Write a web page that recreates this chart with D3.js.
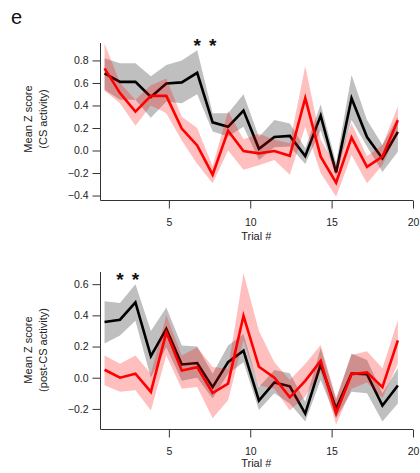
<!DOCTYPE html>
<html>
<head>
<meta charset="utf-8">
<script src="https://cdnjs.cloudflare.com/ajax/libs/d3/7.8.5/d3.min.js"></script>
<style>
  body { margin: 0; background: #fff; }
  svg { display: block; font-family: "Liberation Sans", Arial, sans-serif; }
  .axis path, .axis line { stroke: #333; }
  .axis text { fill: #222; font-size: 10.5px; }
</style>
</head>
<body>
<div id="chart"></div>
<script>

var trials = [1, 2, 3, 4, 5, 6, 7, 8, 9, 10, 11, 12, 13, 14, 15, 16, 17, 18, 19, 20];
var xTicks = [5, 10, 15, 20];

// panel 1 : CS activity
var csBlack   = [0.685, 0.61, 0.61, 0.475, 0.595, 0.605, 0.69, 0.25, 0.21, 0.355, 0.015, 0.12, 0.13, -0.05, 0.31, -0.195, 0.465, 0.12, -0.07, 0.165];
var csBlackHi = [0.82, 0.775, 0.775, 0.66, 0.76, 0.80, 0.89, 0.33, 0.33, 0.50, 0.12, 0.27, 0.24, 0.02, 0.41, -0.11, 0.67, 0.27, 0.05, 0.30];
var csBlackLo = [0.54, 0.45, 0.45, 0.29, 0.435, 0.42, 0.50, 0.17, 0.125, 0.21, -0.085, 0.03, 0.035, -0.12, 0.18, -0.23, 0.27, 0.035, -0.19, -0.01];
var csRed     = [0.73, 0.51, 0.345, 0.485, 0.485, 0.195, 0.045, -0.215, 0.175, -0.005, -0.025, -0.005, -0.047, 0.465, -0.055, -0.285, 0.115, -0.145, -0.055, 0.268];
var csRedHi   = [0.95, 0.60, 0.45, 0.58, 0.64, 0.30, 0.20, -0.14, 0.35, 0.10, 0.15, 0.095, 0.065, 0.75, 0.095, -0.14, 0.24, -0.05, 0.05, 0.39];
var csRedLo   = [0.53, 0.42, 0.22, 0.40, 0.33, 0.09, -0.12, -0.29, 0.0, -0.17, -0.13, -0.085, -0.215, 0.21, -0.20, -0.41, -0.04, -0.29, -0.13, 0.155];
var csTicks   = [-0.4, -0.2, 0.0, 0.2, 0.4, 0.6, 0.8];
var csStars   = [7, 8];

// panel 2 : post-CS activity
var postBlack   = [0.357, 0.372, 0.483, 0.138, 0.313, 0.085, 0.094, -0.06, 0.10, 0.174, -0.147, -0.03, -0.055, -0.23, 0.085, -0.198, 0.027, 0.022, -0.178, -0.05];
var postBlackHi = [0.49, 0.48, 0.60, 0.30, 0.45, 0.206, 0.20, 0.026, 0.206, 0.28, -0.06, 0.05, 0.028, -0.154, 0.19, -0.14, 0.156, 0.113, -0.10, 0.06];
var postBlackLo = [0.22, 0.27, 0.366, 0.0, 0.196, -0.02, 0.0, -0.134, 0.026, 0.10, -0.207, -0.10, -0.165, -0.28, -0.015, -0.26, -0.09, -0.10, -0.28, -0.165];
var postRed     = [0.051, 0.0, 0.026, -0.091, 0.291, 0.047, 0.068, -0.098, -0.038, 0.397, 0.07, 0.0, -0.126, -0.02, 0.108, -0.228, 0.022, 0.034, -0.061, 0.24];
var postRedHi   = [0.143, 0.09, 0.143, 0.026, 0.40, 0.143, 0.196, 0.068, 0.057, 0.67, 0.30, 0.10, -0.015, 0.09, 0.21, -0.13, 0.145, 0.17, 0.06, 0.37];
var postRedLo   = [-0.049, -0.09, -0.08, -0.21, 0.143, -0.07, -0.06, -0.26, -0.145, 0.24, -0.05, -0.07, -0.21, -0.12, 0.04, -0.30, -0.07, -0.03, -0.13, 0.09];
var postTicks   = [-0.2, 0.0, 0.2, 0.4, 0.6];
var postStars   = [2, 3];

var W = 420, H = 473;

var svg = d3.select("#chart").append("svg")
    .attr("width", W)
    .attr("height", H);

svg.append("rect").attr("width", W).attr("height", H).attr("fill", "#fff");

svg.append("text")
    .attr("x", 11)
    .attr("y", 24)
    .attr("font-size", 20)
    .attr("fill", "#111")
    .text("e");

drawPanel({
  top: 43, bottom: 200.5, yDomain: [-0.444, 0.955], yTicks: csTicks, yFormat: ".1f",
  black: csBlack, blackHi: csBlackHi, blackLo: csBlackLo,
  red: csRed, redHi: csRedHi, redLo: csRedLo,
  stars: csStars, starY: 52, labelY: 119, label2: "(CS activity)", xLabelY: 240
});

drawPanel({
  top: 272, bottom: 429.5, yDomain: [-0.332, 0.678], yTicks: postTicks, yFormat: ".1f",
  black: postBlack, blackHi: postBlackHi, blackLo: postBlackLo,
  red: postRed, redHi: postRedHi, redLo: postRedLo,
  stars: postStars, starY: 286, labelY: 350, label2: "(post-CS activity)", xLabelY: 467
});

function drawPanel(p) {
  var left = 100.5, right = 413;

  // axis scale and the scale the trial points sit on (igor-ish offset)
  var x = d3.scaleLinear().domain([0.8, 20]).range([left, right]);
  var xt = d3.scaleLinear().domain([1, 20]).range([x(1.05), x(19.07)]);
  var y = d3.scaleLinear().domain(p.yDomain).range([p.bottom, p.top]);

  var g = svg.append("g");

  var rows = trials.map(function(t, i) {
    return { t: t, b: p.black[i], bh: p.blackHi[i], bl: p.blackLo[i],
             r: p.red[i], rh: p.redHi[i], rl: p.redLo[i] };
  });

  var blackBand = d3.area()
      .x(function(d) { return xt(d.t); })
      .y0(function(d) { return y(d.bl); })
      .y1(function(d) { return y(d.bh); });
  var redBand = d3.area()
      .x(function(d) { return xt(d.t); })
      .y0(function(d) { return y(d.rl); })
      .y1(function(d) { return y(d.rh); });
  var blackLine = d3.line()
      .x(function(d) { return xt(d.t); })
      .y(function(d) { return y(d.b); });
  var redLine = d3.line()
      .x(function(d) { return xt(d.t); })
      .y(function(d) { return y(d.r); });

  g.append("path").datum(rows).attr("d", blackBand)
      .attr("fill", "rgba(0,0,0,0.25)");
  g.append("path").datum(rows).attr("d", blackLine)
      .attr("fill", "none").attr("stroke", "#000").attr("stroke-width", 2.6)
      .attr("stroke-linejoin", "miter");
  g.append("path").datum(rows).attr("d", redBand)
      .attr("fill", "rgba(255,0,0,0.25)");
  g.append("path").datum(rows).attr("d", redLine)
      .attr("fill", "none").attr("stroke", "#ff0000").attr("stroke-width", 2.6)
      .attr("stroke-linejoin", "miter");

  // axes
  g.append("g")
      .attr("class", "axis")
      .attr("transform", "translate(0," + p.bottom + ")")
      .call(d3.axisBottom(x).tickValues(xTicks).tickSize(8).tickPadding(10).tickSizeOuter(0))
      .select(".domain").attr("d", "M" + left + ",0H" + right);

  g.append("g")
      .attr("class", "axis")
      .attr("transform", "translate(" + left + ",0)")
      .call(d3.axisLeft(y).tickValues(p.yTicks).tickFormat(d3.format(p.yFormat)).tickSize(8).tickPadding(4).tickSizeOuter(0))
      .select(".domain").attr("d", "M0," + p.top + "V" + p.bottom);

  // significance stars
  g.selectAll(".star")
      .data(p.stars)
    .enter().append("text")
      .attr("class", "star")
      .attr("x", function(d) { return xt(d); })
      .attr("y", p.starY)
      .attr("text-anchor", "middle")
      .attr("font-size", 19)
      .attr("font-weight", "bold")
      .attr("fill", "#111")
      .text("*");

  // labels
  g.append("text")
      .attr("x", (left + right) / 2 - 0.5)
      .attr("y", p.xLabelY)
      .attr("text-anchor", "middle")
      .attr("font-size", 11)
      .attr("fill", "#222")
      .text("Trial #");

  var yl = g.append("text")
      .attr("transform", "translate(32," + p.labelY + ") rotate(-90)")
      .attr("text-anchor", "middle")
      .attr("font-size", 11)
      .attr("fill", "#222");
  yl.append("tspan").attr("x", 0).attr("y", 0).text("Mean Z score");
  yl.append("tspan").attr("x", 0).attr("y", 14.5).text(p.label2);
}
</script>
</body>
</html>
